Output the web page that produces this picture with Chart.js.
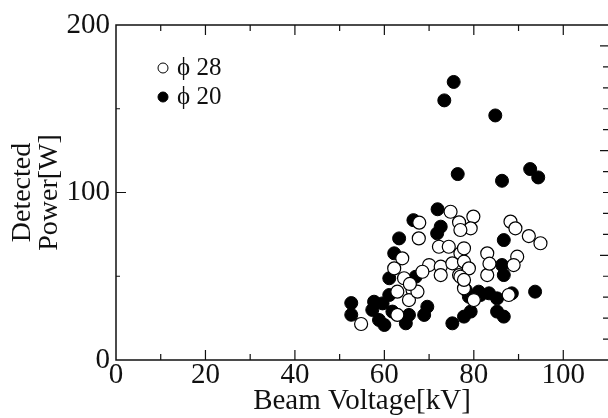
<!DOCTYPE html>
<html>
<head>
<meta charset="utf-8">
<script src="https://cdn.jsdelivr.net/npm/chart.js"></script>
<style>
    body { margin: 0; background: #fff; }
</style>
</head>
<body>
<canvas id="myChart" width="608" height="418"></canvas>
<script>
// data (kV, W)
const phi28Voltage = [67.8, 74.8, 76.7, 79.9, 79.3, 77.0, 88.2, 89.3, 92.3, 94.9,
    67.7, 64.0, 72.2, 74.4, 77.0, 70.0, 72.6, 75.2, 77.8, 62.2,
    64.4, 72.6, 76.7, 62.9, 66.3, 77.8, 68.5, 77.8, 83.0, 89.7,
    78.9, 83.0, 88.9, 77.0, 54.8, 62.9, 65.5, 67.4, 80.0, 87.8,
    77.8, 65.7, 83.5];
const phi28Power = [82, 88.5, 82.2, 85.6, 78.6, 77.6, 82.6, 78.6, 74, 69.7,
    72.6, 60.7, 67.6, 67.6, 63.7, 56.7, 55.7, 57.7, 58.7, 54.7,
    48.8, 50.7, 50.7, 40.8, 41.8, 42.8, 52.7, 66.7, 63.7, 61.7,
    54.7, 50.7, 56.7, 49.7, 21.5, 26.9, 35.8, 40.8, 35.8, 38.8,
    47.8, 45.4, 57.5];

const phi20Voltage = [75.5, 73.4, 84.8, 76.4, 86.3, 92.6, 94.4, 71.9, 72.6, 71.8,
    66.5, 63.3, 62.2, 61.1, 67.0, 86.7, 86.3, 86.7, 78.2, 81.1,
    88.5, 93.7, 78.9, 81.5, 83.4, 85.2, 77.8, 79.3, 75.2, 85.2,
    86.7, 52.6, 52.6, 57.3, 57.7, 59.6, 58.8, 60.0, 61.8, 61.1,
    64.8, 65.5, 68.9, 69.6];
const phi20Power = [166, 155, 146, 111, 107, 114, 109, 90, 79.6, 75.6,
    83.5, 72.6, 63.7, 48.8, 49.7, 71.6, 56.7, 50.7, 41.8, 40.8,
    39.8, 40.8, 37.8, 38.8, 39.8, 36.8, 25.9, 28.9, 21.9, 28.9,
    25.9, 34, 27, 29.9, 34.8, 33.8, 23.9, 20.9, 28.9, 38.8,
    21.9, 26.9, 26.9, 31.8];

const seriesLabels = ["ϕ 28", "ϕ 20"];
const xTicks = [0, 20, 40, 60, 80, 100];
const yTicks = [0, 100, 200];

const serif = "'Liberation Serif', 'DejaVu Serif', serif";

function toPoints(xs, ys) {
    return xs.map((x, i) => ({ x: x, y: ys[i] }));
}

// frame, inward ticks and the little legend
const framePlugin = {
    id: "frame",
    afterDatasetsDraw(chart) {
        const ctx = chart.ctx;
        const a = chart.chartArea;
        const xs = chart.scales.x;
        const ys = chart.scales.y;

        ctx.save();
        ctx.strokeStyle = "#111";
        ctx.lineWidth = 1.5;
        ctx.beginPath();
        ctx.moveTo(a.right, a.top);
        ctx.lineTo(a.left, a.top);
        ctx.lineTo(a.left, a.bottom);
        ctx.lineTo(a.right, a.bottom);
        ctx.stroke();

        ctx.lineWidth = 1.2;
        ctx.beginPath();
        // bottom and top ticks every 10 kV
        for (let v = 10; v <= 100; v += 10) {
            const px = xs.getPixelForValue(v);
            const len = v % 20 === 0 ? 10 : 6;
            ctx.moveTo(px, a.bottom);
            ctx.lineTo(px, a.bottom - len);
            ctx.moveTo(px, a.top);
            ctx.lineTo(px, a.top + len);
        }
        // left ticks every 50 W
        for (let v = 50; v < 200; v += 50) {
            const py = ys.getPixelForValue(v);
            const len = v % 100 === 0 ? 10 : 4;
            ctx.moveTo(a.left, py);
            ctx.lineTo(a.left + len, py);
        }
        // right side ticks (other panel's axis), every 12.5 W
        for (let k = 1; k <= 15; k++) {
            const py = ys.getPixelForValue(k * 12.5);
            const len = k % 5 === 0 ? 8 : 5;
            ctx.moveTo(a.right, py);
            ctx.lineTo(a.right - len, py);
        }
        ctx.stroke();

        // legend
        const rows = [68, 97];
        chart.data.datasets.forEach((ds, i) => {
            ctx.beginPath();
            ctx.arc(163, rows[i], 5, 0, Math.PI * 2);
            ctx.fillStyle = ds.backgroundColor;
            ctx.fill();
            ctx.lineWidth = 1;
            ctx.strokeStyle = "#000";
            ctx.stroke();
            ctx.fillStyle = "#111";
            ctx.font = "25px " + serif;
            ctx.textBaseline = "middle";
            ctx.fillText(ds.label, 177, rows[i]);
        });
        ctx.restore();
    }
};

const data = {
    datasets: [
        {
            label: seriesLabels[0],
            data: toPoints(phi28Voltage, phi28Power),
            backgroundColor: "#ffffff",
            borderColor: "#000000",
            borderWidth: 1.2,
            pointRadius: 6.5
        },
        {
            label: seriesLabels[1],
            data: toPoints(phi20Voltage, phi20Power),
            backgroundColor: "#000000",
            borderColor: "#000000",
            borderWidth: 1,
            pointRadius: 6.5
        }
    ]
};

const options = {
    responsive: false,
    animation: false,
    layout: { autoPadding: false, padding: { top: 25, right: 0, left: 0, bottom: 0 } },
    plugins: {
        legend: { display: false },
        tooltip: { enabled: false }
    },
    scales: {
        x: {
            type: "linear",
            min: 0,
            max: 110,
            afterFit: (scale) => {
                scale.height = 58;
                scale.paddingLeft = 0;
                scale.paddingRight = 0;
            },
            afterBuildTicks: (scale) => { scale.ticks = xTicks.map(v => ({ value: v })); },
            grid: { display: false, drawTicks: false },
            border: { display: false },
            ticks: {
                color: "#111",
                padding: 1,
                font: { family: serif, size: 29, lineHeight: 1 }
            },
            title: {
                display: true,
                text: "Beam Voltage[kV]",
                color: "#111",
                padding: { top: 0, bottom: 0 },
                font: { family: serif, size: 29, lineHeight: 1.15 }
            }
        },
        y: {
            type: "linear",
            min: 0,
            max: 200,
            afterFit: (scale) => { scale.width = 116; },
            afterBuildTicks: (scale) => { scale.ticks = yTicks.map(v => ({ value: v })); },
            grid: { display: false, drawTicks: false },
            border: { display: false },
            ticks: {
                color: "#111",
                padding: 6,
                font: { family: serif, size: 29, lineHeight: 1 }
            },
            title: {
                display: true,
                text: ["Detected", "Power[W]"],
                color: "#111",
                padding: { top: 9, bottom: 0 },
                font: { family: serif, size: 28, lineHeight: 0.97 }
            }
        }
    }
};

const ctx = document.getElementById("myChart").getContext("2d");
const myChart = new Chart(ctx, {
    type: "scatter",
    data: data,
    options: options,
    plugins: [framePlugin]
});
</script>
</body>
</html>
